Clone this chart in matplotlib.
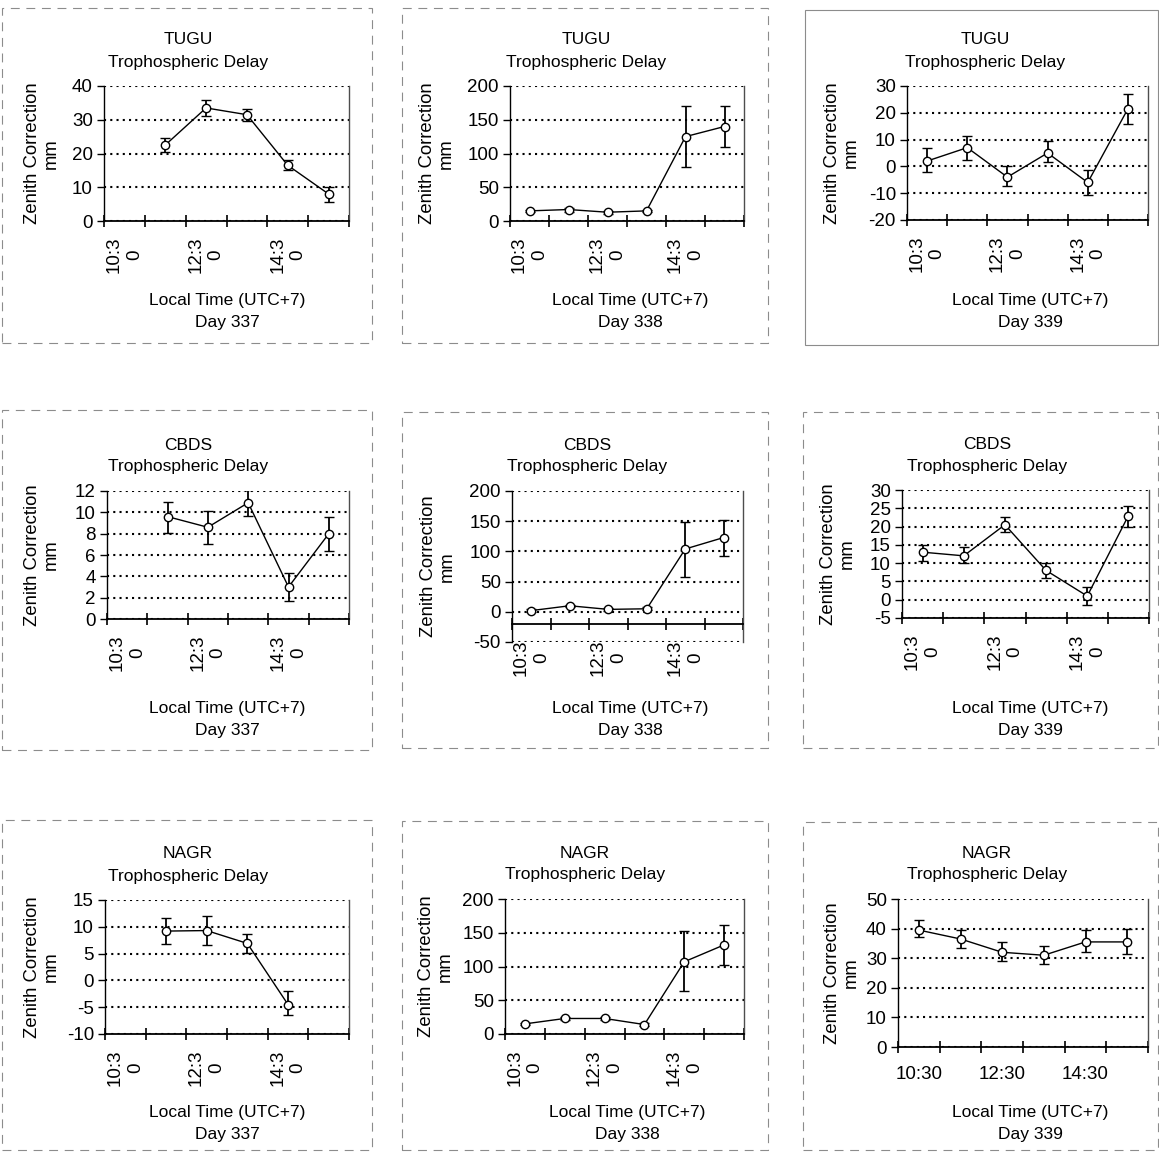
import numpy as np
import matplotlib
matplotlib.use("Agg")
import matplotlib.pyplot as plt
from matplotlib.patches import Rectangle

plt.rcParams['font.family'] = ['Liberation Sans', 'DejaVu Sans']
plt.rcParams['axes.unicode_minus'] = False

nan = np.nan
times = ["10:30", "11:30", "12:30", "13:30", "14:30", "15:30"]
tick_labels = ["10:30", "12:30", "14:30"]
stations = ["TUGU", "CBDS", "NAGR"]
days = ["337", "338", "339"]

# values and error bar bounds (mm)
tugu_337 = [nan, 22.5, 33.5, 31.5, 16.5, 8.0]
tugu_337_lo = [nan, 20.5, 31.0, 29.5, 15.0, 5.5]
tugu_337_hi = [nan, 24.5, 36.0, 33.3, 18.0, 10.0]

tugu_338 = [15, 17, 13, 15, 125, 140]
tugu_338_lo = [13, 14, 11, 13, 80, 110]
tugu_338_hi = [17, 20, 15, 17, 171, 171]

tugu_339 = [2.0, 7.0, -4.0, 5.0, -6.0, 21.5]
tugu_339_lo = [-2.0, 2.5, -7.5, 1.5, -10.5, 16.0]
tugu_339_hi = [7.0, 11.5, 0.0, 9.5, -1.5, 27.0]

cbds_337 = [nan, 9.6, 8.6, 10.9, 3.0, 8.0]
cbds_337_lo = [nan, 8.1, 7.0, 9.7, 1.7, 6.4]
cbds_337_hi = [nan, 11.0, 10.1, 12.1, 4.3, 9.6]

cbds_338 = [2, 10, 4, 5, 104, 123]
cbds_338_lo = [0, 8, 2, 3, 58, 93]
cbds_338_hi = [4, 12, 6, 8, 148, 152]

cbds_339 = [13.0, 12.0, 20.5, 8.0, 1.0, 23.0]
cbds_339_lo = [10.5, 10.0, 18.5, 6.0, -1.5, 20.0]
cbds_339_hi = [15.0, 14.5, 22.5, 10.0, 3.5, 25.5]

nagr_337 = [nan, 9.2, 9.3, 6.9, -4.5, nan]
nagr_337_lo = [nan, 6.8, 6.6, 5.2, -6.5, nan]
nagr_337_hi = [nan, 11.6, 12.0, 8.6, -2.0, nan]

nagr_338 = [15, 23, 23, 14, 107, 132]
nagr_338_lo = [13, 21, 21, 12, 63, 102]
nagr_338_hi = [17, 25, 25, 16, 152, 162]

nagr_339 = [39.5, 36.5, 32.0, 31.0, 35.5, 35.5]
nagr_339_lo = [37.0, 33.5, 29.0, 28.0, 32.0, 31.5]
nagr_339_hi = [43.0, 39.5, 35.5, 34.0, 39.5, 40.0]

W, H = 1159, 1152
fig = plt.figure(figsize=(W / 100, H / 100), dpi=100)


def px_axes(left, top, right, bottom):
    return fig.add_axes([left / W, 1 - bottom / H, (right - left) / W, (bottom - top) / H])


def ftext(x, y, s, size=12.5, **kw):
    fig.text(x / W, 1 - y / H, s, ha='center', va='center', fontsize=size, **kw)


panels = [
    # station, day, vals, lo, hi, ylim, step, axes box (px), title x, xlabel x, ylabel x, frame
    ("TUGU", "337", tugu_337, tugu_337_lo, tugu_337_hi, (0, 40), 10, (104, 86, 349, 221), 188, 227, 42, (2, 8, 372, 343)),
    ("TUGU", "338", tugu_338, tugu_338_lo, tugu_338_hi, (0, 200), 50, (510, 86, 744, 221), 586, 630, 437, (402, 8, 768, 343)),
    ("TUGU", "339", tugu_339, tugu_339_lo, tugu_339_hi, (-20, 30), 10, (907, 86, 1148, 220), 985, 1030, 842, (805, 10, 1158, 345)),
    ("CBDS", "337", cbds_337, cbds_337_lo, cbds_337_hi, (0, 12), 2, (107, 491, 349, 619), 188, 227, 42, (2, 410, 372, 750)),
    ("CBDS", "338", cbds_338, cbds_338_lo, cbds_338_hi, (-50, 200), 50, (512, 491, 743, 642), 587, 630, 438, (402, 412, 768, 748)),
    ("CBDS", "339", cbds_339, cbds_339_lo, cbds_339_hi, (-5, 30), 5, (902, 490, 1149, 618), 987, 1030, 838, (803, 412, 1158, 748)),
    ("NAGR", "337", nagr_337, nagr_337_lo, nagr_337_hi, (-10, 15), 5, (105, 900, 349, 1034), 188, 227, 42, (2, 820, 372, 1150)),
    ("NAGR", "338", nagr_338, nagr_338_lo, nagr_338_hi, (0, 200), 50, (505, 899, 744, 1034), 585, 627, 436, (402, 821, 768, 1150)),
    ("NAGR", "339", nagr_339, nagr_339_lo, nagr_339_hi, (0, 50), 10, (898, 899, 1148, 1047), 987, 1030, 842, (803, 822, 1158, 1150)),
]

x = np.arange(len(times)) + 0.5

for i, (st, day, vals, lo, hi, ylim, step, box, tx, lx, yx, frame) in enumerate(panels):
    left, top, right, bottom = box
    ax = px_axes(left, top, right, bottom)
    vals = np.array(vals, dtype=float)
    err = [vals - np.array(lo, dtype=float), np.array(hi, dtype=float) - vals]

    # spines first: moving a spine resets the tick setup
    for s in ax.spines.values():
        s.set_color('black')
        s.set_linewidth(1.0)
    ax.spines['top'].set_visible(False)
    ax.spines['right'].set_color('0.3')
    ax.spines['bottom'].set_linewidth(1.3)
    if st == "CBDS" and day == "338":
        ax.spines['bottom'].set_position(('data', -20))

    ax.errorbar(x, vals, yerr=err, fmt='-o', color='black', lw=1.0, elinewidth=1.3,
                capsize=3.5, capthick=2.4, ms=6, mfc='white', mec='black', mew=1.0)

    ax.set_xlim(0, len(times))
    ax.set_ylim(*ylim)
    ax.set_yticks(np.arange(ylim[0], ylim[1] + step / 2, step))
    ax.yaxis.grid(True, color='black', linestyle=(0, (1, 2)), lw=1.5)
    ax.set_axisbelow(True)

    ax.set_xticks(np.arange(len(times) + 1))
    ax.set_xticklabels([])
    ax.set_xticks([0.5, 2.5, 4.5], minor=True)
    if day == "339" and st == "NAGR":
        ax.set_xticklabels(tick_labels, minor=True, fontsize=13.5)
        ax.tick_params(axis='x', which='minor', length=0, pad=14)
    else:
        ax.set_xticklabels([t[:-1] + "\n" + t[-1] for t in tick_labels], minor=True,
                           rotation=90, va='top', ha='center', multialignment='center',
                           fontsize=13.5, linespacing=1.25)
        ax.tick_params(axis='x', which='minor', length=0, pad=11)
    ax.tick_params(axis='x', which='major', direction='inout', length=8, width=1.2)
    ax.tick_params(axis='y', direction='out', length=5, width=1.0, labelsize=13.5, pad=3)

    # titles and axis labels
    ftext(tx, top - 46, st)
    ftext(tx, top - 24, "Trophospheric Delay")
    ftext(yx, (top + bottom) / 2, "Zenith Correction\nmm", size=13.3, rotation=90, linespacing=1.15)
    if st == "NAGR":
        ly = 1112
    elif st == "CBDS":
        ly = 708
    else:
        ly = 300
    ftext(lx, ly, "Local Time (UTC+7)")
    ftext(lx, ly + 22, "Day " + day)

    # chart area frame
    fx0, fy0, fx1, fy1 = frame
    fig.add_artist(Rectangle((fx0 / W, 1 - fy1 / H), (fx1 - fx0) / W, (fy1 - fy0) / H,
                             transform=fig.transFigure, fill=False, ec='0.55', lw=0.8,
                             ls='-' if i == 2 else (0, (8, 6))))

fig.savefig("out.png", dpi=100)
